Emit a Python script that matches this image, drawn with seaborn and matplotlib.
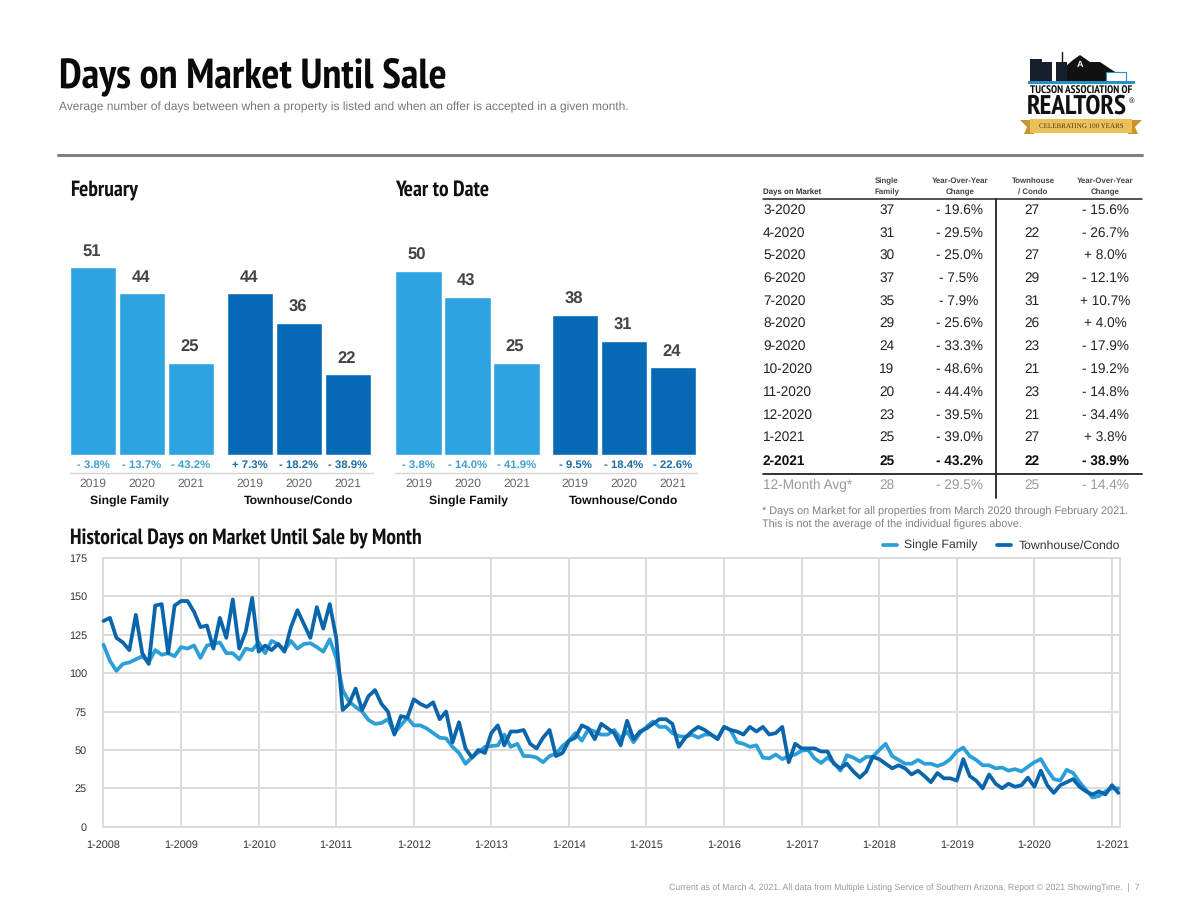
# plot.py - Days on Market Until Sale

import pandas as pd
import matplotlib.pyplot as plt
import seaborn as sns
from matplotlib.patches import Polygon, Rectangle

W, H = 1200, 924

SF_COLOR = "#2ea3e2"
TC_COLOR = "#0669b5"
SF_LINE = "#2c9fd8"
TC_LINE = "#0a65ab"
SF_TEXT = "#3f9fd4"
TC_TEXT = "#1c6ca8"

NARROW = ["PT Sans Narrow", "Liberation Sans"]

# -----------------------------
# Data
# -----------------------------
years = ["2019", "2020", "2021"]

feb_sf = [51, 44, 25]
feb_tc = [44, 36, 22]
feb_sf_change = ["- 3.8%", "- 13.7%", "- 43.2%"]
feb_tc_change = ["+ 7.3%", "- 18.2%", "- 38.9%"]

ytd_sf = [50, 43, 25]
ytd_tc = [38, 31, 24]
ytd_sf_change = ["- 3.8%", "- 14.0%", "- 41.9%"]
ytd_tc_change = ["- 9.5%", "- 18.4%", "- 22.6%"]

table_months = ["3-2020", "4-2020", "5-2020", "6-2020", "7-2020", "8-2020",
                "9-2020", "10-2020", "11-2020", "12-2020", "1-2021", "2-2021",
                "12-Month Avg*"]
table_sf = ["37", "31", "30", "37", "35", "29", "24", "19", "20", "23", "25", "25", "28"]
table_sf_change = ["- 19.6%", "- 29.5%", "- 25.0%", "- 7.5%", "- 7.9%", "- 25.6%",
                   "- 33.3%", "- 48.6%", "- 44.4%", "- 39.5%", "- 39.0%", "- 43.2%",
                   "- 29.5%"]
table_tc = ["27", "22", "27", "29", "31", "26", "23", "21", "23", "21", "27", "22", "25"]
table_tc_change = ["- 15.6%", "- 26.7%", "+ 8.0%", "- 12.1%", "+ 10.7%", "+ 4.0%",
                   "- 17.9%", "- 19.2%", "- 14.8%", "- 34.4%", "+ 3.8%", "- 38.9%",
                   "- 14.4%"]

# monthly history, 1-2008 through 2-2021
hist_sf = [
    118.5, 108, 101.5, 106, 107, 109, 111, 107, 115, 112, 113, 111,
    117, 116, 118, 110, 118, 119, 120, 113, 113, 109, 116, 115,
    120, 113, 121, 119, 115, 121, 116, 119, 119.5, 117, 114, 122,
    110, 89, 81.5, 78, 75, 69.5, 67, 67.5, 70, 61, 66, 71,
    66, 66, 64, 61, 58, 57.5, 52, 48, 41, 45, 48.5, 52,
    52.5, 53, 60, 52, 54, 46, 46, 45, 42, 46, 47.5, 52.5,
    56, 61, 56, 63.5, 62, 60, 60, 63, 57.5, 62, 55, 61,
    65, 68.5, 65, 65, 61, 59, 58.5, 60, 58, 60, 60, 57.5,
    65, 63, 55, 54, 52, 53, 45, 44.5, 47, 44, 46, 47,
    49.5, 50, 44.5, 41.5, 45, 41.5, 36.5, 46.5, 45, 42.5, 45.5, 45.5,
    50, 54, 46, 43.5, 41, 41, 43.5, 41, 41, 39.5, 41, 44,
    49, 51.5, 46, 43.5, 40, 40, 38, 38.5, 36.5, 37.5, 36, 39,
    42, 44, 37, 31, 30, 37, 35, 29, 24, 19, 20, 23,
    25, 25,
]
hist_tc = [
    134, 136, 123, 120, 115, 138, 113, 106, 144, 145, 113, 144,
    147, 147, 140, 130, 131, 116, 136, 123, 148, 116, 127, 149,
    114, 118, 115, 119, 114, 130, 141, 132, 123, 143, 129, 145,
    123, 76, 80, 90, 76, 85, 89, 80, 75, 60, 72, 71,
    83, 80, 78, 81, 70, 75, 55, 68, 51, 45, 50, 48,
    61, 66, 53, 62, 62, 63, 54, 51, 58, 63, 46, 48,
    56, 58, 66, 64, 57, 67, 64, 61, 53, 69, 57, 62,
    64, 67, 70, 70, 67, 52, 58, 62, 65, 63, 60, 57,
    65, 63, 62, 60, 65, 62, 65, 60, 61, 65, 42, 54,
    51, 51, 51, 49, 49, 41, 38, 41, 36, 32, 36, 45.5,
    44, 41, 38, 40, 38, 34, 36.5, 33, 29, 35, 31.5, 31.5,
    30, 44, 33, 30, 25, 34, 28, 25, 28, 26, 27, 32,
    26, 36.5, 27, 22, 27, 29, 31, 26, 23, 21, 23, 21,
    27, 22,
]
hist_ticks = ["1-2008", "1-2009", "1-2010", "1-2011", "1-2012", "1-2013", "1-2014",
              "1-2015", "1-2016", "1-2017", "1-2018", "1-2019", "1-2020", "1-2021"]
hist_yticks = [0, 25, 50, 75, 100, 125, 150, 175]


# -----------------------------
# Helpers
# -----------------------------
def add_axes_px(fig, x0, y0, x1, y1):
    return fig.add_axes([x0 / W, 1 - y1 / H, (x1 - x0) / W, (y1 - y0) / H])


def bar_group(fig, x0, values, changes, color, text_color):
    # 49 px per bar, baseline at y=455, 3.68 px per day
    ax = add_axes_px(fig, x0, 455 - 60 * 3.68, x0 + 147, 455)
    ax.patch.set_alpha(0)
    sns.barplot(x=years, y=values, color=color, saturation=1, width=0.94, ax=ax)
    ax.set_xlim(-0.5, 2.5)
    ax.set_ylim(0, 60)
    ax.grid(False)
    ax.set_yticks([])
    ax.set_xlabel("")
    ax.set_ylabel("")
    for name in ["top", "left", "right"]:
        ax.spines[name].set_visible(False)
    ax.spines["bottom"].set_position(("outward", 12.6))
    ax.spines["bottom"].set_visible(False)
    ax.tick_params(axis="x", length=2.5, width=0.8, color="#cccccc", labelsize=8.7,
                   labelcolor="#666666", pad=1.5)
    for i, v in enumerate(values):
        ax.annotate(str(v), (i, v), xytext=(-1, 5.5), textcoords="offset points",
                    ha="center", va="bottom", fontsize=12, fontweight="bold", color="#444444")
        ax.annotate(changes[i], (i, 0), xytext=(0, -7.3), textcoords="offset points",
                    ha="center", va="center", fontsize=8.2, fontweight="bold", color=text_color)
    return ax


def draw_table(ov):
    ov.text(763, 192, "Days on Market", fontsize=5.7, fontweight="bold", color="#333333", va="center")
    for x, top, bottom in [(887, "Single", "Family"), (960, "Year-Over-Year", "Change"),
                           (1033, "Townhouse", "/ Condo"), (1105, "Year-Over-Year", "Change")]:
        ov.text(x, 181, top, fontsize=5.7, fontweight="bold", color="#444444", ha="center", va="center")
        ov.text(x, 192, bottom, fontsize=5.7, fontweight="bold", color="#444444", ha="center", va="center")

    row_y = [210, 233, 255, 278, 301, 323, 346, 369, 392, 415, 437.5, 461.5, 485]
    for i, y in enumerate(row_y):
        weight = "bold" if i == 11 else "normal"
        color = "#999999" if i == 12 else "#222222"
        if i == 11:
            color = "#111111"
        style = dict(fontsize=9.8, fontweight=weight, color=color, va="center")
        ov.text(763, y, table_months[i], **style)
        ov.text(887, y, table_sf[i], ha="center", **style)
        ov.text(959, y, table_sf_change[i], ha="center", **style)
        ov.text(1032, y, table_tc[i], ha="center", **style)
        ov.text(1105, y, table_tc_change[i], ha="center", **style)

    ov.plot([763, 1142], [198.5, 198.5], color="#222222", lw=1.1)
    ov.plot([763, 1142], [473.5, 473.5], color="#222222", lw=1.3)
    ov.plot([995.5, 995.5], [198.5, 498], color="#222222", lw=1.3)
    ov.text(762, 511.5, "* Days on Market for all properties from March 2020 through February 2021.",
            fontsize=7.85, color="#808080", va="center")
    ov.text(762, 525, "This is not the average of the individual figures above.",
            fontsize=7.85, color="#808080", va="center")


def draw_logo(ov):
    # mountain, skyline and ribbon, roughly traced
    ov.add_patch(Polygon([(1066, 82), (1066, 66), (1073, 60), (1080, 55), (1090, 62), (1100, 62),
                          (1112, 70), (1122, 76), (1112, 82)], color="#111111", lw=0))
    for x0, y0, x1 in [(1030, 59, 1042), (1042, 62, 1052), (1056, 62, 1067)]:
        ov.add_patch(Rectangle((x0, y0), x1 - x0, 82 - y0, color="#16202a", lw=0))
    ov.plot([1062, 1062], [52, 62], color="#111111", lw=1)
    ov.add_patch(Rectangle((1106, 72), 20, 9, facecolor="white", edgecolor="#2a8fc4", lw=0.8))
    ov.add_patch(Rectangle((1028, 81), 107, 3, color="#2a8fc4", lw=0))
    ov.text(1080, 65, "A", fontsize=6.5, fontweight="bold", color="white", ha="center", va="center")
    ov.text(1081, 91, "TUCSON ASSOCIATION OF", fontsize=8, fontweight="bold", color="#111111",
            ha="center", va="center", family=NARROW)
    ov.text(1077, 107, "REALTORS", fontsize=19.5, fontweight="bold", color="#111111",
            ha="center", va="center", family=NARROW)
    ov.text(1132, 101, "®", fontsize=5.5, color="#111111", ha="center", va="center")
    ov.add_patch(Polygon([(1020, 120), (1034, 120), (1034, 134), (1024, 134), (1027, 127)],
                         color="#c9962e", lw=0))
    ov.add_patch(Polygon([(1142, 120), (1128, 120), (1128, 134), (1138, 134), (1135, 127)],
                         color="#c9962e", lw=0))
    ov.add_patch(Rectangle((1030, 119), 102, 14, color="#ecc15a", lw=0))
    ov.text(1081, 126, "CELEBRATING 100 YEARS", fontsize=5, color="#4a3a10", ha="center",
            va="center", family="Liberation Serif")


# -----------------------------
# Figure
# -----------------------------
sns.set_theme(style="white")
plt.rcParams["font.family"] = ["Liberation Sans", "DejaVu Sans"]
plt.rcParams["text.hinting"] = "no_hinting"

fig = plt.figure(figsize=(W / 100, H / 100), dpi=100, facecolor="white")

ov = fig.add_axes([0, 0, 1, 1])
ov.set_xlim(0, W)
ov.set_ylim(H, 0)
ov.axis("off")

ov.text(59, 78, "Days on Market Until Sale", fontsize=30.5, fontweight="bold", color="#0a0a0a",
        va="center", family=NARROW)
ov.text(59, 107, "Average number of days between when a property is listed and when an offer is accepted in a given month.",
        fontsize=8.63, color="#777777", va="center")
ov.plot([58, 1142], [154.5, 154.5], color="#808080", lw=2.2)
ov.text(70, 190, "February", fontsize=15.6, fontweight="bold", color="#111111", va="center", family=NARROW)
ov.text(395, 190, "Year to Date", fontsize=15.6, fontweight="bold", color="#111111", va="center", family=NARROW)
ov.text(70, 539, "Historical Days on Market Until Sale by Month", fontsize=15.6, fontweight="bold",
        color="#111111", va="center", family=NARROW)
ov.text(1140, 888, "Current as of March 4, 2021. All data from Multiple Listing Service of Southern Arizona. Report © 2021 ShowingTime.  |  7",
        fontsize=6.3, color="#999999", ha="right", va="center")

# bar panels
bar_group(fig, 68.5, feb_sf, feb_sf_change, SF_COLOR, SF_TEXT)
bar_group(fig, 225.5, feb_tc, feb_tc_change, TC_COLOR, TC_TEXT)
bar_group(fig, 394, ytd_sf, ytd_sf_change, SF_COLOR, SF_TEXT)
bar_group(fig, 550.5, ytd_tc, ytd_tc_change, TC_COLOR, TC_TEXT)

for x0, x1, left, right in [(70, 373, 129, 299), (395, 697, 468, 624)]:
    ov.plot([x0, x1], [472.5, 472.5], color="#d5d5d5", lw=1)
    ov.text(left, 501, "Single Family", fontsize=8.8, fontweight="bold", color="#111111", ha="center", va="center")
    ov.text(right, 501, "Townhouse/Condo", fontsize=8.8, fontweight="bold", color="#111111", ha="center", va="center")

draw_table(ov)
draw_logo(ov)

# history line chart
hist = pd.DataFrame({
    "Month": list(range(len(hist_sf))) * 2,
    "Days": hist_sf + hist_tc,
    "Type": ["Single Family"] * len(hist_sf) + ["Townhouse/Condo"] * len(hist_tc),
})
ax = add_axes_px(fig, 103.5, 558, 1120, 826.7)
ax.patch.set_alpha(0)
sns.lineplot(data=hist, x="Month", y="Days", hue="Type", palette=[SF_LINE, TC_LINE],
             linewidth=2.7, ax=ax, zorder=3, clip_on=False)
ax.set_xlim(0, 157.25)
ax.set_ylim(0, 175)
ax.set_xticks(range(0, 157, 12), hist_ticks)
ax.set_yticks(hist_yticks)
ax.set_xlabel("")
ax.set_ylabel("")
ax.grid(True, color="#dcdcdc", lw=1.4)
ax.set_axisbelow(True)
for spine in ax.spines.values():
    spine.set_color("#dcdcdc")
    spine.set_linewidth(1.4)
ax.tick_params(axis="both", length=0, labelsize=7.8, labelcolor="#333333")
ax.tick_params(axis="x", pad=9.5)
ax.tick_params(axis="y", pad=12)
leg = ax.legend(loc="lower right", bbox_to_anchor=(1.0, 1.025), ncol=2, frameon=False,
                fontsize=8.8, handlelength=1.15, columnspacing=1.6, handletextpad=0.6,
                borderpad=0, borderaxespad=0)
for text in leg.get_texts():
    text.set_color("#333333")

fig.savefig("out.png", dpi=100, facecolor="white")
